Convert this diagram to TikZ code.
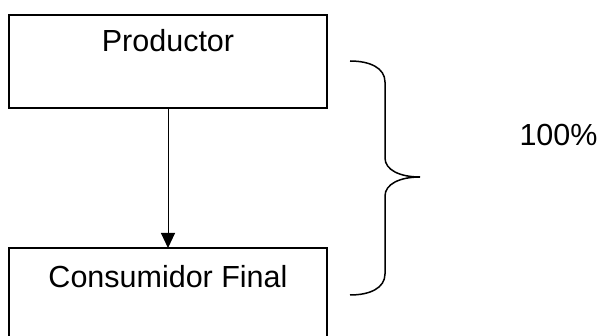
\documentclass[tikz,border=0pt]{standalone}
\usepackage{fontspec}
\setmainfont{Liberation Sans}
\usepackage{tikz}
\usetikzlibrary{arrows.meta}

\begin{document}
\begin{tikzpicture}[x = 1pt, y = -1pt, font = \fontsize{30.5}{36}\selectfont,
    caja/.style = {draw, line width = 1.5pt, minimum width = 318pt, minimum height = 93pt, inner sep = 0pt, outer sep = 0pt},
    llave/.style = {line width = 1.5pt}]
            \clip (0, 0) rectangle (599, 336);
            %画方框
            \node[caja] (prod) at (168, 61.5) {};
            \node[caja] (cons) at (168, 294.5) {};
            \node[anchor = base] (prodtxt) at ([yshift = -37pt]prod.north) {Productor};
            \node[anchor = base] (constxt) at ([yshift = -40pt]cons.north) {Consumidor Final};
            %画箭头
            \draw[line width = 1pt, -{Triangle[length = 15pt, width = 14pt]}] (prod.south) -- (cons.north);
            %画大括号
            \draw[llave] (350, 61) .. controls (370, 61) and (385, 68) .. (385, 82) -- (385, 158)
                .. controls (385, 170) and (400, 177) .. (420, 177)
                .. controls (400, 177) and (385, 184) .. (385, 196) -- (385, 274)
                .. controls (385, 288) and (370, 295) .. (350, 295);
            %标注百分比
            \node[anchor = base] (pct) at (558.5, 146) {100\%};
        \end{tikzpicture}
\end{document}
